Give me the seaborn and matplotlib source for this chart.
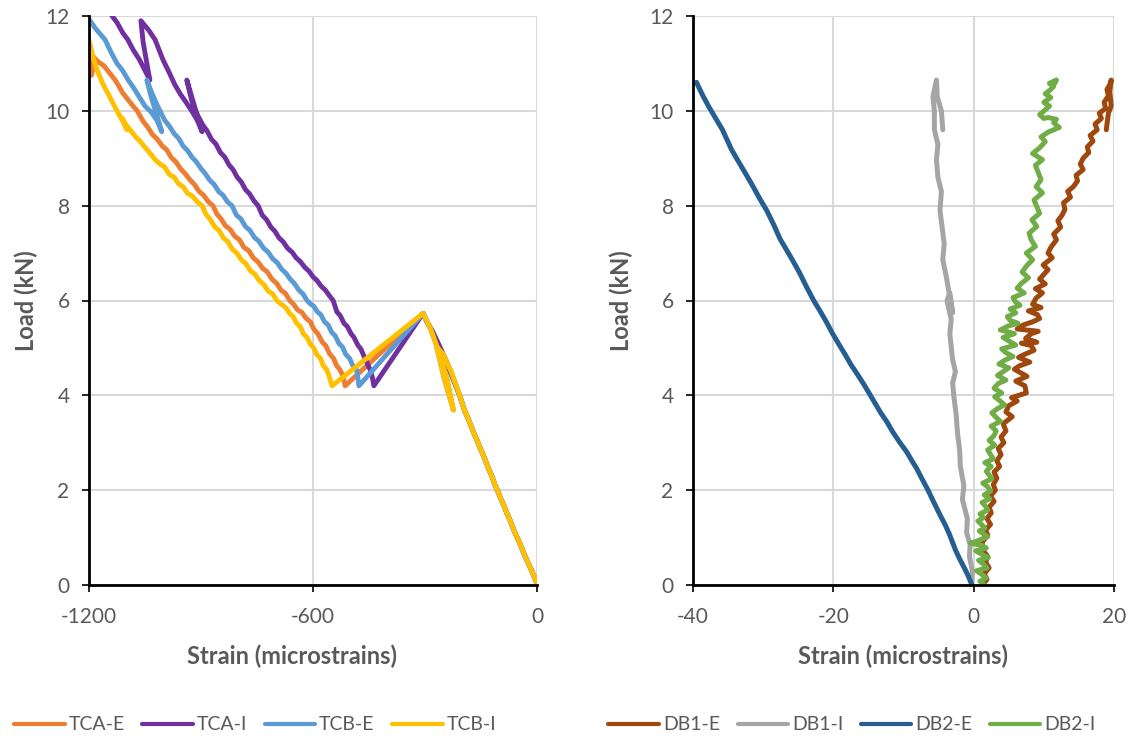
import matplotlib
matplotlib.use("Agg")
from matplotlib import pyplot as plt
from matplotlib.lines import Line2D
import seaborn as sns
import pandas as pd


sns.set_theme(style="white")
plt.rcParams['font.family'] = ['Lato', 'DejaVu Sans']
plt.rcParams['axes.unicode_minus'] = False

TEXT = '#595959'
GRID = '#D9D9D9'

# ---------------- left chart data (strain, load) ----------------
# shared loading path up to ~4 kN
lower_strain = [0, -6, -13, -20, -27, -35, -42, -50, -58, -65, -73, -81, -89, -97, -105,
                -113, -121, -129, -137, -145, -153, -161, -169, -177, -185, -193, -200, -206]
lower_load = [0.03, 0.15, 0.28, 0.40, 0.52, 0.66, 0.80, 0.95, 1.08, 1.22, 1.38, 1.52, 1.68, 1.82, 1.98,
              2.12, 2.30, 2.44, 2.60, 2.76, 2.90, 3.06, 3.20, 3.36, 3.52, 3.66, 3.82, 3.97]

# path to the 5.7 kN peak, with and without the small unloading
peak_strain = [-225, -245, -262, -280, -295, -305]
peak_load = [4.35, 4.75, 5.05, 5.35, 5.55, 5.73]
dip_strain = [-230, -250, -269, -250, -224, -240, -262, -285, -305]
dip_load = [4.50, 4.85, 5.03, 4.40, 3.69, 4.30, 4.90, 5.40, 5.73]

tca_e_strain = [-514, -519, -528, -537, -545, -556, -566, -575, -587, -598, -607, -618, -630, -641, -652,
                -662, -674, -686, -697, -710, -722, -735, -748, -760, -772, -785, -797, -810, -822, -835,
                -846, -857, -868, -880, -893, -905, -918, -930, -943, -955, -967, -980, -992, -1004, -1017,
                -1030, -1043, -1055, -1071, -1084, -1097, -1110, -1120, -1130, -1145, -1160, -1178, -1195,
                -1188, -1193, -1210]
tca_e_load = [4.20, 4.40, 4.54, 4.63, 4.78, 4.88, 5.05, 5.12, 5.30, 5.40, 5.55, 5.62, 5.75, 5.80, 5.92,
              6.00, 6.15, 6.22, 6.36, 6.45, 6.60, 6.68, 6.82, 6.90, 7.05, 7.12, 7.28, 7.36, 7.50, 7.58,
              7.72, 7.82, 8.00, 8.08, 8.22, 8.30, 8.45, 8.55, 8.68, 8.78, 8.92, 9.02, 9.18, 9.26, 9.40,
              9.50, 9.66, 9.78, 10.00, 10.12, 10.25, 10.38, 10.52, 10.65, 10.80, 10.95, 11.05, 11.20,
              10.95, 10.75, 10.95]

tca_i_strain = [-437, -441, -447, -456, -463, -472, -480, -490, -498, -508, -517, -527, -536, -546,
                -556, -567, -578, -589, -600, -611, -622, -634, -645, -656, -668, -680, -691, -702, -713,
                -724, -736, -747, -758, -770, -781, -792, -803, -814, -825, -836, -848, -860, -872, -884,
                -895, -906, -916, -926, -932, -938, -925, -910, -897, -910, -925, -940, -955, -970, -986,
                -1002, -1013, -1023, -1040, -1061, -1055, -1045, -1037, -1050, -1065, -1082, -1096, -1110,
                -1124, -1138, -1152]
tca_i_load = [4.20, 4.38, 4.54, 4.70, 4.82, 4.98, 5.06, 5.22, 5.30, 5.45, 5.52, 5.68, 5.76, 6.00,
              6.10, 6.22, 6.30, 6.42, 6.50, 6.62, 6.70, 6.82, 6.90, 7.02, 7.10, 7.24, 7.32, 7.46, 7.55,
              7.70, 7.80, 8.00, 8.10, 8.25, 8.34, 8.50, 8.60, 8.76, 8.86, 9.02, 9.12, 9.30, 9.40, 9.58,
              9.70, 9.86, 10.00, 10.25, 10.45, 10.65, 10.30, 9.90, 9.56, 9.80, 10.00, 10.18, 10.35, 10.55, 10.82,
              11.08, 11.30, 11.50, 11.70, 11.90, 11.45, 11.00, 10.65, 10.85, 11.08, 11.29, 11.50, 11.65,
              11.85, 12.00, 12.20]

tcb_e_strain = [-477, -480, -483, -493, -502, -512, -521, -531, -540, -550, -559, -569, -579, -588, -598,
                -607, -616, -627, -638, -650, -661, -673, -684, -696, -708, -720, -732, -745, -757, -769,
                -781, -793, -805, -817, -829, -841, -853, -865, -877, -889, -900, -912, -924, -936, -948,
                -960, -972, -985, -997, -1010, -1022, -1033, -1045, -1032, -1018, -1005, -1018, -1034, -1050,
                -1066, -1080, -1095, -1110, -1125, -1140, -1157, -1170, -1184, -1197, -1212]
tcb_e_load = [4.20, 4.38, 4.54, 4.62, 4.78, 4.86, 5.02, 5.10, 5.25, 5.33, 5.48, 5.55, 5.70, 5.76, 5.88,
              5.93, 6.00, 6.14, 6.22, 6.36, 6.45, 6.58, 6.66, 6.80, 6.88, 7.02, 7.10, 7.25, 7.33, 7.48,
              7.56, 7.72, 7.80, 8.00, 8.08, 8.22, 8.30, 8.45, 8.54, 8.68, 8.78, 8.92, 9.02, 9.16, 9.26,
              9.42, 9.52, 9.68, 9.80, 10.00, 10.20, 10.40, 10.65, 10.25, 9.90, 9.56, 9.80, 9.98, 10.10,
              10.30, 10.48, 10.65, 10.85, 11.00, 11.22, 11.50, 11.62, 11.75, 11.90, 12.05]

tcb_i_strain = [-549, -556, -563, -572, -580, -590, -598, -607, -616, -626, -634, -644, -653, -662, -672,
                -681, -690, -697, -708, -720, -732, -744, -756, -768, -780, -792, -804, -816, -828, -840,
                -852, -864, -876, -887, -897, -910, -923, -936, -948, -960, -972, -985, -998, -1010, -1023,
                -1036, -1049, -1062, -1075, -1088, -1100, -1112, -1098, -1112, -1125, -1137, -1148, -1160,
                -1170, -1180, -1190, -1197, -1205]
tcb_i_load = [4.20, 4.38, 4.54, 4.62, 4.78, 4.86, 5.00, 5.08, 5.22, 5.30, 5.45, 5.52, 5.66, 5.72, 5.84,
              5.90, 5.95, 6.00, 6.14, 6.20, 6.34, 6.42, 6.56, 6.63, 6.78, 6.86, 7.00, 7.08, 7.24, 7.32,
              7.48, 7.56, 7.72, 7.82, 8.00, 8.08, 8.20, 8.26, 8.40, 8.46, 8.60, 8.66, 8.82, 8.88, 8.97,
              9.10, 9.22, 9.35, 9.45, 9.58, 9.70, 9.85, 9.60, 9.82, 10.00, 10.18, 10.35, 10.52,
              10.70, 10.90, 11.15, 11.40, 11.60]

# ---------------- right chart data (strain, load) ----------------
db1_e_strain = [1.2, 1.9, 1.5, 2.2, 1.7, 2.0, 1.4, 1.2, 2.0, 1.7,
                2.4, 1.9, 2.5, 2.2, 2.9, 2.4, 3.1, 2.8, 3.3, 2.9,
                3.7, 3.3, 3.9, 3.5, 4.3, 3.9, 4.6, 4.2, 5.5, 4.6,
                5.0, 6.2, 5.4, 7.5, 7.3, 6.0, 7.6, 5.8, 6.5, 8.0,
                6.4, 7.2, 8.6, 8.2, 6.8, 9.0, 7.4, 8.2, 9.2, 6.2,
                7.0, 8.4, 9.4, 9.1, 7.8, 9.6, 8.4, 8.9, 9.8, 8.8,
                10.2, 9.4, 10.0, 10.6, 9.9, 11.2, 10.6, 11.0, 11.8, 11.4,
                12.4, 12.0, 12.6, 13.0, 12.8, 13.8, 13.4, 14.2, 14.8, 14.6,
                15.6, 15.2, 15.6, 16.4, 16.2, 17.0, 16.6, 17.6, 17.3, 18.2,
                17.9, 18.8, 18.6, 19.2, 19.0, 19.5, 19.6, 19.4, 19.6, 19.2,
                18.9]
db1_e_load = [0.00, 0.12, 0.24, 0.36, 0.48, 0.60, 0.72, 0.90, 1.05, 1.16,
              1.28, 1.40, 1.52, 1.64, 1.76, 1.88, 2.00, 2.12, 2.25, 2.38,
              2.50, 2.62, 2.75, 2.88, 3.00, 3.12, 3.25, 3.40, 3.55, 3.65,
              3.78, 3.88, 3.95, 4.05, 4.20, 4.30, 4.40, 4.55, 4.62, 4.70,
              4.80, 4.86, 4.95, 5.05, 5.10, 5.12, 5.20, 5.30, 5.35, 5.40,
              5.48, 5.55, 5.62, 5.70, 5.78, 5.85, 5.92, 6.05, 6.16, 6.25,
              6.35, 6.45, 6.55, 6.65, 6.75, 6.90, 7.00, 7.12, 7.28, 7.40,
              7.55, 7.68, 7.80, 7.92, 8.06, 8.18, 8.30, 8.40, 8.52, 8.64,
              8.76, 8.88, 9.00, 9.12, 9.24, 9.36, 9.48, 9.60, 9.72, 9.84,
              9.95, 10.05, 10.18, 10.32, 10.45, 10.58, 10.65, 10.40, 10.10, 9.95,
              9.60]

db1_i_strain = [-0.3, -0.2, -0.6, -0.5, -1.0, -0.9, -1.6, -1.4, -1.9, -2.0, -2.3, -2.5, -2.8, -3.0,
                -2.6, -3.0, -3.4, -3.2, -3.8, -3.4, -3.0, -3.9, -4.4, -4.2, -4.8, -4.6, -5.1, -5.3,
                -5.1, -5.6, -5.6, -5.8, -5.3, -5.2, -4.6, -4.4]
db1_i_load = [0.00, 0.30, 0.60, 0.85, 1.10, 1.40, 1.80, 2.10, 2.50, 2.85, 3.20, 3.60, 3.95, 4.26,
              4.50, 4.75, 5.30, 5.60, 6.00, 6.16, 5.74, 6.50, 6.86, 7.20, 7.90, 8.30, 8.60, 8.97,
              9.30, 9.60, 10.00, 10.30, 10.65, 10.30, 10.00, 9.60]

db2_e_strain = [-0.3, -0.8, -1.4, -2.0, -2.6, -3.4, -4.0, -4.8, -5.8, -6.5, -7.3, -8.1, -8.8, -9.6,
                -10.5, -11.5, -12.4, -13.2, -14.0, -14.8, -15.6, -16.6, -17.5, -18.4, -19.3, -20.1,
                -21.0, -21.9, -22.8, -23.8, -24.8, -25.7, -26.6, -27.6, -28.5, -29.5, -30.5, -31.5,
                -32.4, -33.4, -34.5, -35.8, -36.8, -37.8, -38.7, -39.5]
db2_e_load = [0.02, 0.20, 0.38, 0.55, 0.74, 1.05, 1.25, 1.48, 1.78, 2.00, 2.22, 2.45, 2.62, 2.82,
              3.00, 3.22, 3.45, 3.62, 3.82, 4.02, 4.22, 4.45, 4.65, 4.88, 5.10, 5.30,
              5.55, 5.78, 6.00, 6.28, 6.58, 6.82, 7.05, 7.30, 7.60, 7.90, 8.15, 8.42,
              8.65, 8.90, 9.18, 9.60, 9.85, 10.10, 10.35, 10.60]

db2_i_strain = [1.5, 0.9, 1.8, 1.2, 0.4, 1.9, 1.4, 0.7, 2.1, 1.0,
                0.3, 1.8, 1.1, -0.5, 0.4, 1.0, 2.0, 1.4, 0.8, 1.6,
                1.1, 0.6, 1.4, 0.9, 2.0, 1.7, 1.2, 2.3, 1.5, 2.4,
                2.0, 1.3, 2.6, 2.2, 1.8, 2.5, 1.6, 2.8, 2.4, 2.0,
                3.0, 2.2, 2.9, 3.2, 2.5, 3.8, 3.1, 2.6, 3.4, 4.4,
                3.6, 3.0, 4.0, 2.9, 3.5, 4.6, 3.4, 4.2, 5.0, 3.6,
                4.4, 5.6, 4.6, 4.0, 6.0, 5.1, 4.2, 5.8, 3.8, 4.9,
                6.3, 5.2, 4.8, 6.0, 5.2, 6.6, 5.9, 5.6, 7.2, 6.2,
                6.8, 7.8, 6.9, 7.6, 8.4, 7.5, 8.8, 8.2, 7.9, 9.0,
                8.3, 9.4, 9.0, 8.6, 9.8, 8.9, 9.6, 9.2, 8.8, 9.8,
                8.4, 9.4, 10.2, 9.6, 10.6, 12.2, 11.4, 11.8, 10.6, 10.0,
                9.4, 10.2, 10.8, 10.0, 11.0, 10.2, 10.9, 11.4, 10.8, 11.8,
                11.2, 11.6]
db2_i_load = [0.00, 0.08, 0.15, 0.22, 0.30, 0.36, 0.44, 0.52, 0.58, 0.66,
              0.72, 0.78, 0.84, 0.88, 0.92, 0.96, 1.02, 1.08, 1.14, 1.20,
              1.28, 1.35, 1.42, 1.50, 1.58, 1.66, 1.74, 1.82, 1.90, 1.98,
              2.07, 2.15, 2.24, 2.32, 2.40, 2.50, 2.58, 2.66, 2.75, 2.85,
              2.95, 3.05, 3.15, 3.25, 3.35, 3.45, 3.55, 3.63, 3.72, 3.80,
              3.90, 3.97, 4.05, 4.15, 4.25, 4.32, 4.42, 4.50, 4.58, 4.66,
              4.74, 4.82, 4.90, 4.98, 5.06, 5.14, 5.22, 5.30, 5.38, 5.46,
              5.52, 5.58, 5.66, 5.74, 5.82, 5.90, 5.98, 6.06, 6.16, 6.26,
              6.36, 6.48, 6.60, 6.74, 6.86, 7.00, 7.14, 7.28, 7.42, 7.56,
              7.70, 7.84, 7.98, 8.12, 8.27, 8.40, 8.55, 8.70, 8.85, 8.97,
              9.10, 9.22, 9.35, 9.45, 9.55, 9.65, 9.75, 9.82, 9.86, 9.84,
              9.92, 10.02, 10.10, 10.18, 10.28, 10.36, 10.44, 10.52, 10.58, 10.65,
              10.50, 10.62]

left_names = ['TCA-E', 'TCA-I', 'TCB-E', 'TCB-I']
left_colors = ['#ED7D31', '#7030A0', '#5B9BD5', '#FFC000']
right_names = ['DB1-E', 'DB1-I', 'DB2-E', 'DB2-I']
right_colors = ['#9E480E', '#A5A5A5', '#255E91', '#70AD47']

left_series = {
    'TCA-E': (lower_strain + peak_strain + tca_e_strain, lower_load + peak_load + tca_e_load),
    'TCA-I': (lower_strain + peak_strain + tca_i_strain, lower_load + peak_load + tca_i_load),
    'TCB-E': (lower_strain + dip_strain + tcb_e_strain, lower_load + dip_load + tcb_e_load),
    'TCB-I': (lower_strain + dip_strain + tcb_i_strain, lower_load + dip_load + tcb_i_load),
}
right_series = {
    'DB1-E': (db1_e_strain, db1_e_load),
    'DB1-I': (db1_i_strain, db1_i_load),
    'DB2-E': (db2_e_strain, db2_e_load),
    'DB2-I': (db2_i_strain, db2_i_load),
}


def to_frame(series):
    rows = []
    for name, (xs, ys) in series.items():
        for i, (x, y) in enumerate(zip(xs, ys)):
            rows.append({'series': name, 'idx': i, 'strain': x, 'load': y})
    return pd.DataFrame(rows)


left_df = to_frame(left_series)
right_df = to_frame(right_series)

fig = plt.figure(figsize=(11.33, 7.42), dpi=100)
ax1 = fig.add_axes([89 / 1133, 157 / 742, 448 / 1133, 569 / 742])
ax2 = fig.add_axes([693 / 1133, 157 / 742, 421 / 1133, 569 / 742])

sns.lineplot(data=left_df, x='strain', y='load', hue='series', hue_order=left_names,
             palette=dict(zip(left_names, left_colors)), sort=False, estimator=None,
             legend=False, ax=ax1, linewidth=3.5, solid_joinstyle='round', solid_capstyle='round')
sns.lineplot(data=right_df, x='strain', y='load', hue='series', hue_order=right_names,
             palette=dict(zip(right_names, right_colors)), sort=False, estimator=None,
             legend=False, ax=ax2, linewidth=3.6, solid_joinstyle='round', solid_capstyle='round')


def style_axis(ax, xlim, xticks, xlabel_x, ylabel_x):
    ax.set_xlim(*xlim)
    ax.set_ylim(0, 12)
    ax.set_xticks(xticks)
    ax.set_yticks(range(0, 13, 2))
    ax.grid(True, color=GRID, linewidth=1.5)
    ax.set_axisbelow(True)
    for side in ['top', 'right']:
        ax.spines[side].set_visible(False)
    for side in ['left', 'bottom']:
        ax.spines[side].set_color('black')
        ax.spines[side].set_linewidth(2.0)
        ax.spines[side].set_zorder(5)
    ax.tick_params(axis='both', which='major', direction='out', length=5, width=1.2,
                   color='black', labelcolor=TEXT, labelsize=15, left=True, bottom=True)
    ax.tick_params(axis='x', pad=11)
    ax.tick_params(axis='y', pad=9)
    ax.set_xlabel('Strain (microstrains)', fontsize=17, fontweight='bold', color=TEXT)
    ax.set_ylabel('Load (kN)', fontsize=17, fontweight='bold', color=TEXT)
    ax.xaxis.set_label_coords(xlabel_x, -0.105)
    ax.yaxis.set_label_coords(ylabel_x, 0.5)


style_axis(ax1, (-1200, 0), [-1200, -600, 0], 0.453, -0.114)
style_axis(ax2, (-40, 20), [-40, -20, 0, 20], 0.5, -0.1425)

for names, colors, cx in [(left_names, left_colors, 255 / 1133), (right_names, right_colors, 852 / 1133)]:
    handles = [Line2D([], [], color=c, linewidth=3, solid_capstyle='round') for c in colors]
    fig.legend(handles, names, loc='center', bbox_to_anchor=(cx, 1 - 725 / 742), ncol=4,
               frameon=False, fontsize=14, labelcolor=TEXT, handlelength=2.6,
               handletextpad=0.2, columnspacing=0.9)

plt.savefig('out.png', dpi=100)
